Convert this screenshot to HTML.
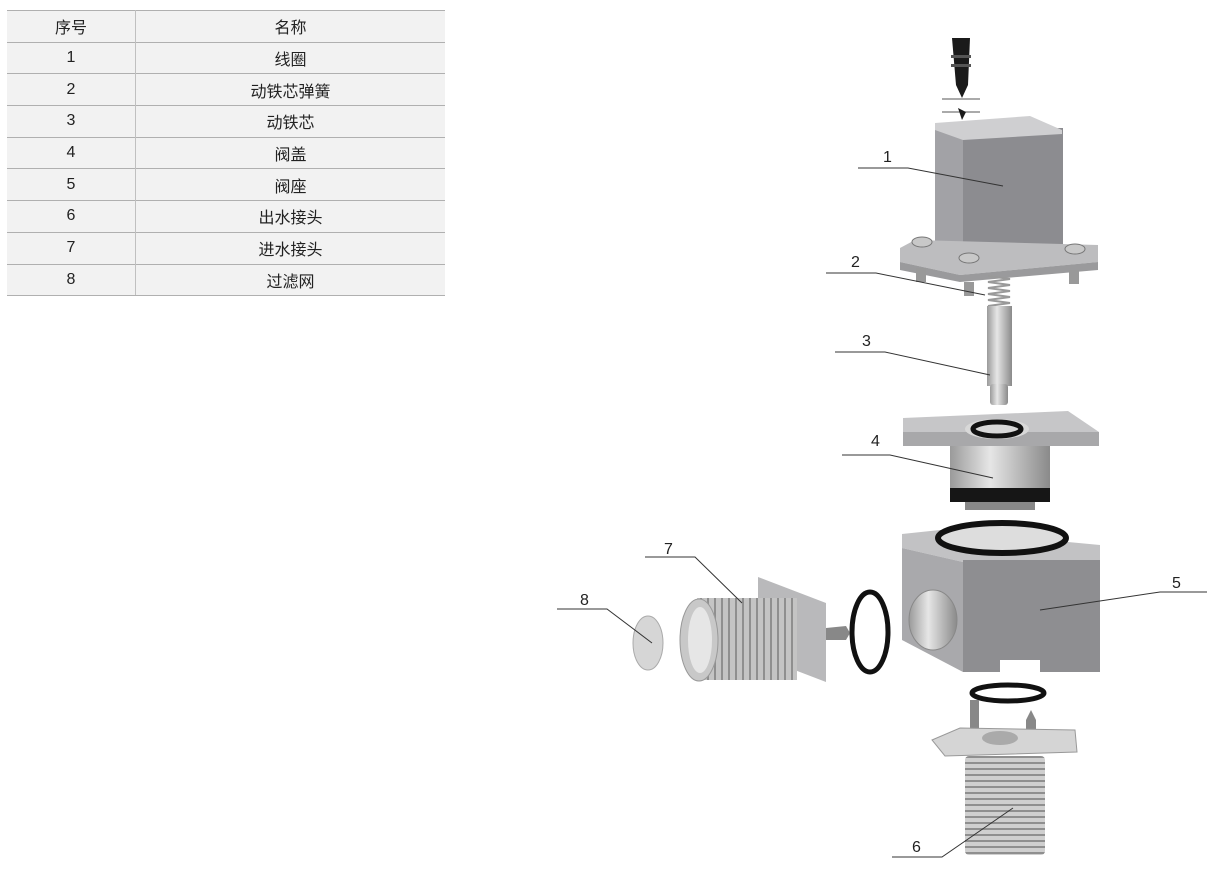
<!DOCTYPE html>
<html><head><meta charset="utf-8"><style>
html,body{margin:0;padding:0;background:#fff;}
body{width:1220px;height:884px;position:relative;overflow:hidden;font-family:"Liberation Sans","Noto Sans CJK SC",sans-serif;}
table{position:absolute;left:7px;top:10px;width:438px;border-collapse:collapse;background:#f2f2f2;font-size:16px;color:#222;}
td{height:30.7px;border-top:1.5px solid #b0b0b0;text-align:center;padding:0;}
tr:last-child td{border-bottom:1.5px solid #b0b0b0;}
td:first-child{width:128px;border-right:1.5px solid #c0c0c0;}
svg{position:absolute;left:0;top:0;}
</style></head><body>
<table>
<tr><td>序号</td><td>名称</td></tr>
<tr><td>1</td><td>线圈</td></tr>
<tr><td>2</td><td>动铁芯弹簧</td></tr>
<tr><td>3</td><td>动铁芯</td></tr>
<tr><td>4</td><td>阀盖</td></tr>
<tr><td>5</td><td>阀座</td></tr>
<tr><td>6</td><td>出水接头</td></tr>
<tr><td>7</td><td>进水接头</td></tr>
<tr><td>8</td><td>过滤网</td></tr>
</table>
<svg width="1220" height="884" viewBox="0 0 1220 884">
<defs>
<linearGradient id="cyl" x1="0" x2="1"><stop offset="0" stop-color="#9a9a9a"/><stop offset="0.4" stop-color="#e6e6e6"/><stop offset="1" stop-color="#8a8a8a"/></linearGradient>
<pattern id="thr" width="6" height="6" patternUnits="userSpaceOnUse"><rect width="6" height="6" fill="#cfcfcf"/><rect width="6" height="2" fill="#8f8f8f"/></pattern>
<pattern id="thrv" width="7" height="6" patternUnits="userSpaceOnUse"><rect width="7" height="6" fill="#c4c4c4"/><rect width="2" height="6" fill="#8f8f8f"/></pattern>
</defs>
<!-- cable -->
<path d="M952,38 L970,38 L968,85 L962,98 L956,85 Z" fill="#1a1a1a"/>
<rect x="951" y="55" width="20" height="3" fill="#555"/><rect x="951" y="64" width="20" height="3" fill="#555"/>
<line x1="942" y1="99" x2="980" y2="99" stroke="#555"/><line x1="942" y1="112" x2="980" y2="112" stroke="#555"/>
<path d="M958,108 L966,112 L962,120 Z" fill="#1a1a1a"/>
<!-- coil -->
<rect x="935" y="128" width="128" height="122" fill="#8c8c90"/>
<rect x="935" y="128" width="28" height="122" fill="#a2a2a6"/>
<polygon points="935,123 1030,116 1062,130 1062,134 963,140 935,130" fill="#cfcfd1"/>
<polygon points="900,248 915,240 1098,245 1098,262 960,275 900,262" fill="#bdbdbf"/>
<polygon points="900,262 960,275 1098,262 1098,270 960,282 900,270" fill="#9a9a9c"/>
<ellipse cx="922" cy="242" rx="10" ry="5" fill="#c8c8c8" stroke="#777"/>
<ellipse cx="969" cy="258" rx="10" ry="5" fill="#c8c8c8" stroke="#777"/>
<ellipse cx="1075" cy="249" rx="10" ry="5" fill="#c8c8c8" stroke="#777"/>
<rect x="916" y="268" width="10" height="14" fill="#999"/>
<rect x="964" y="282" width="10" height="14" fill="#999"/>
<rect x="1069" y="270" width="10" height="14" fill="#999"/>
<!-- spring -->
<path d="M988,276 L1010,279 L988,282 L1010,285 L988,288 L1010,291 L988,294 L1010,297 L988,300 L1010,303 L988,306" fill="none" stroke="#999" stroke-width="2"/>
<rect x="987" y="306" width="25" height="80" fill="url(#cyl)"/>
<rect x="990" y="384" width="18" height="21" rx="3" fill="url(#cyl)"/>
<!-- valve cover -->
<polygon points="903,418 1068,411 1099,432 1099,446 903,446 903,432" fill="#c6c6c8"/>
<rect x="903" y="432" width="196" height="14" fill="#a8a8aa"/>
<ellipse cx="997" cy="429" rx="32" ry="10" fill="#d8d8d8"/>
<ellipse cx="997" cy="429" rx="24" ry="7" fill="none" stroke="#111" stroke-width="5"/>
<rect x="950" y="446" width="100" height="44" fill="url(#cyl)"/>
<rect x="950" y="488" width="100" height="14" fill="#161616"/>
<rect x="965" y="502" width="70" height="8" fill="#888"/>
<!-- body -->
<polygon points="902,534 940,530 1100,545 1100,560 963,562 902,548" fill="#c2c2c4"/>
<rect x="963" y="560" width="137" height="112" fill="#8e8e91"/>
<polygon points="902,548 963,562 963,672 902,640" fill="#a9a9ac"/>
<polygon points="1000,660 1040,660 1040,672 1000,672" fill="#fff"/>
<ellipse cx="933" cy="620" rx="24" ry="30" fill="url(#cyl)" stroke="#888"/>
<ellipse cx="1002" cy="538" rx="64" ry="15" fill="#ddd" stroke="#111" stroke-width="6"/>
<!-- side o-ring -->
<ellipse cx="870" cy="632" rx="18" ry="40" fill="none" stroke="#111" stroke-width="5"/>
<!-- part 7 -->
<polygon points="758,577 826,603 826,682 758,656" fill="#b9b9bb"/>
<rect x="697" y="598" width="100" height="82" fill="url(#thrv)"/>
<ellipse cx="699" cy="640" rx="19" ry="41" fill="#c8c8c8" stroke="#999"/>
<ellipse cx="700" cy="640" rx="12" ry="33" fill="#e6e6e6"/>
<polygon points="826,628 846,626 850,633 846,640 826,640" fill="#888"/>
<!-- part 8 -->
<ellipse cx="648" cy="643" rx="15" ry="27" fill="#d6d6d6" stroke="#aaa"/>
<!-- part 6 -->
<ellipse cx="1008" cy="693" rx="36" ry="8" fill="none" stroke="#111" stroke-width="5"/>
<rect x="970" y="700" width="9" height="30" fill="#888"/>
<polygon points="1026,735 1036,735 1036,720 1031,710 1026,720" fill="#888"/>
<polygon points="932,740 960,728 1075,730 1077,752 945,756" fill="#d5d5d5" stroke="#999"/>
<ellipse cx="1000" cy="738" rx="18" ry="7" fill="#aaa"/>
<rect x="965" y="756" width="80" height="99" rx="4" fill="url(#thr)"/>
<!-- leaders -->
<g stroke="#333" stroke-width="1" fill="none">
<polyline points="858,168 908,168 1003,186"/>
<polyline points="826,273 876,273 985,295"/>
<polyline points="835,352 885,352 990,375"/>
<polyline points="842,455 890,455 993,478"/>
<polyline points="1207,592 1160,592 1040,610"/>
<polyline points="645,557 695,557 742,603"/>
<polyline points="557,609 607,609 652,643"/>
<polyline points="892,857 942,857 1013,808"/>
</g>
<g font-family="Liberation Sans, sans-serif" font-size="16" fill="#222">
<text x="883" y="162">1</text><text x="851" y="267">2</text><text x="862" y="346">3</text>
<text x="871" y="446">4</text><text x="1172" y="588">5</text><text x="912" y="852">6</text>
<text x="664" y="554">7</text><text x="580" y="605">8</text>
</g>
</svg>
</body></html>
